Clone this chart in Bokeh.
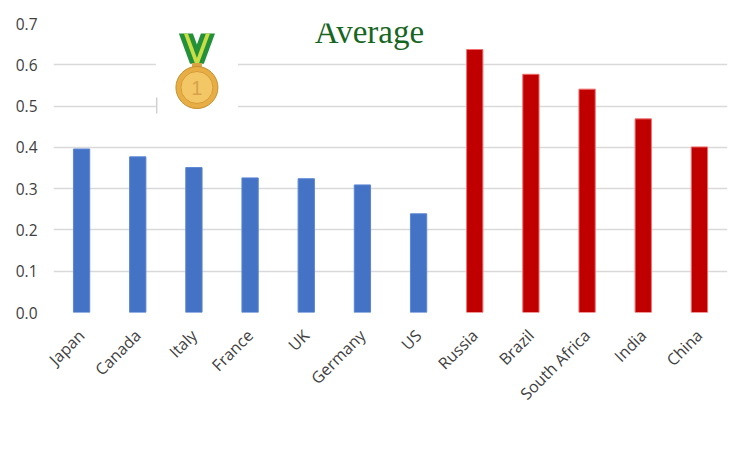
from bokeh.plotting import figure
from bokeh.models import Range1d, Label, FactorRange, ColumnDataSource, CustomJSTickFormatter
from bokeh.embed import file_html
from bokeh.resources import INLINE

countries = ["Japan", "Canada", "Italy", "France", "UK", "Germany", "US",
             "Russia", "Brazil", "South Africa", "India", "China"]
values = [0.396, 0.377, 0.351, 0.326, 0.324, 0.309, 0.239,
          0.637, 0.577, 0.541, 0.469, 0.401]
groups = ["G7"] * 7 + ["BRICS"] * 5
fill_map = {"G7": "#4472C4", "BRICS": "#C00000"}
line_map = {"G7": "#5A86D6", "BRICS": "#F07070"}
title_text = "Average"
y_ticks = [0, 0.1, 0.2, 0.3, 0.4, 0.5, 0.6, 0.7]

src = ColumnDataSource(dict(
    x=countries, top=values,
    fill=[fill_map[g] for g in groups],
    line=[line_map[g] for g in groups],
))

p = figure(width=734, height=434, x_range=FactorRange(*countries),
           y_range=Range1d(0, 0.7), output_backend="svg",
           toolbar_location=None, min_border_left=53, min_border_right=7,
           min_border_top=23, min_border_bottom=122)
p.outline_line_color = None
p.background_fill_color = "white"
p.border_fill_color = "white"

p.xgrid.grid_line_color = None
p.ygrid.grid_line_color = "#D9D9D9"
p.ygrid.grid_line_width = 1.3
p.yaxis.ticker = y_ticks
p.yaxis.formatter = CustomJSTickFormatter(code="return tick.toFixed(1);")
for ax in (p.xaxis, p.yaxis):
    ax.axis_line_color = None
    ax.major_tick_line_color = None
    ax.minor_tick_line_color = None
    ax.major_label_text_font = "Open Sans"
    ax.major_label_text_color = "#404040"
p.yaxis.major_label_text_font_size = "15.5px"
p.xaxis.major_label_text_font_size = "16px"
p.yaxis.major_label_standoff = 10
p.xaxis.major_label_orientation = 0.785
p.xaxis.major_label_standoff = 14

# medal decoration (pixel positions of the picture converted to data space)
x0, x1, y0, y1 = 55, 727, 312, 23
def dx(px):
    return (px - x0) / (x1 - x0) * len(countries)
def dy(py):
    return (y0 - py) / (y0 - y1) * 0.7

# white image background box
p.quad(left=[dx(157)], right=[dx(239)], top=[dy(30)], bottom=[dy(116)],
       fill_color="white", line_color=None)
p.segment(x0=[dx(158)], y0=[dy(97)], x1=[dx(158)], y1=[dy(113)],
          line_color="#BBBBBB", line_width=1)

p.vbar(x="x", top="top", width=0.29, source=src, fill_color="fill",
       line_color="line", line_width=1)

ribbon_l = [(180, 33), (194, 33), (205, 63), (191, 63)]
ribbon_r = [(216, 33), (202, 33), (191, 63), (205, 63)]
for poly in (ribbon_l, ribbon_r):
    p.patch([dx(a) for a, b in poly], [dy(b) for a, b in poly],
            fill_color="#23903A", line_color=None)
for poly in ([(185, 33), (189, 33), (200, 63), (196, 63)],
             [(211, 33), (207, 33), (196, 63), (200, 63)]):
    p.patch([dx(a) for a, b in poly], [dy(b) for a, b in poly],
            fill_color="#CBDD45", line_color=None)
p.rect(x=[dx(198)], y=[dy(65)], width=10, height=5, width_units="screen",
       height_units="screen", fill_color="#D9A441", line_color=None)
p.circle(x=[dx(198)], y=[dy(87)], radius=21, radius_units="screen",
         fill_color="#E6AE45", line_color="#C98E2C", line_width=1)
p.circle(x=[dx(198)], y=[dy(87)], radius=16, radius_units="screen",
         fill_color="#F3C766", line_color="#D79B36", line_width=1)
p.text(x=[dx(198)], y=[dy(87)], text=["1"], text_align="center",
       text_baseline="middle", text_font_size="20px", text_color="#D8A24A")

# title label
p.add_layout(Label(x=dx(370), y=dy(31), text=title_text, text_align="center",
                   text_baseline="alphabetic", text_font="Liberation Serif",
                   text_font_size="33px", text_color="#17661F"))

open("out.html", "w").write(file_html(p, INLINE))
